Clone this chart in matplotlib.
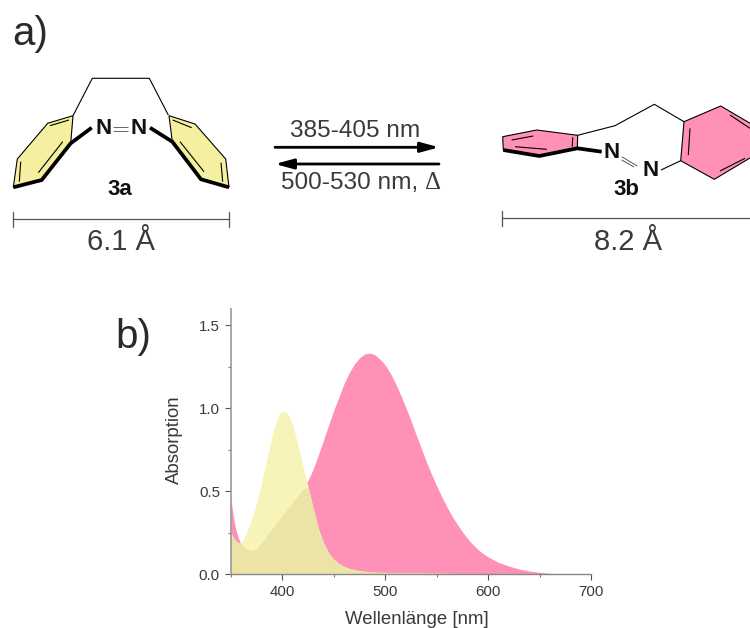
import numpy as np
import matplotlib
matplotlib.use('Agg')
import matplotlib.pyplot as plt

plt.rcParams['font.family'] = ['Liberation Sans', 'DejaVu Sans']

# spectrum values
wavelength = [350, 352, 354, 356, 358, 360, 362, 365, 370, 375, 380, 385, 390, 395, 398, 400, 402,
              405, 410, 415, 420, 425, 430, 435, 440, 445, 450, 455, 460, 465, 470, 475,
              480, 485, 490, 495, 500, 505, 510, 515, 520, 525, 530, 535, 540, 545, 550, 555,
              560, 565, 570, 575, 580, 585, 590, 595, 600, 610, 620, 630, 640, 650, 660, 670, 680, 700]
absorb_3b = [.45, .36, .29, .24, .205, .185, .17, .152, .142, .155, .19, .232, .275, .315, .34, .355, .37,
             .395, .435, .475, .512, .568, .635, .72, .81, .90, .99, 1.07, 1.15, 1.215, 1.267, 1.305,
             1.327, 1.333, 1.322, 1.295, 1.26, 1.21, 1.15, 1.08, 1.005, .925, .84, .76, .677, .602, .532, .466,
             .405, .35, .30, .256, .216, .18, .15, .125, .105, .072, .05, .032, .02, .012, .006, .003, .001, 0]
absorb_3a = [.25, .225, .208, .195, .19, .195, .21, .25, .33, .43, .558, .70, .835, .94, .972, .982, .984,
             .97, .90, .78, .65, .525, .395, .275, .19, .13, .09, .065, .048, .035, .028, .022,
             .018, .015, .013, .012, .012, .011, .011, .01, .01, .009, .009, .009, .008, .008, .007, .007,
             .006, .006, .005, .005, .004, .004, .004, .003, .003, .003, .002, .002, .001, .001, 0, 0, 0, 0]

x_ticks = [400, 500, 600, 700]
x_minor = [350, 450, 550, 650]
y_ticks = [0.0, 0.5, 1.0, 1.5]
y_minor = [0.25, 0.75, 1.25]

YELLOW = '#F6F4B8'
PINK = '#FF90B8'
OLIVE = '#ECE4A6'
RING_YELLOW = '#F5F0A0'
TEXT = '#3A3A3A'

# structure 3a, pixel outline of the drawing
ring_3a_left = [(73, 115.7), (47.7, 123.3), (17.3, 159), (13.3, 187.3), (41.7, 180), (70.7, 143.3)]
ring_3a_right = [(169, 115.7), (195, 124), (225.7, 159), (229, 187.3), (201, 179.3), (172.3, 141.7)]
bridge_3a = [(73, 115.7), (92.3, 78.3), (149.3, 78.3), (168.3, 115)]
thin_3a = [[(50, 125.7), (69, 120)], [(20.7, 161.7), (19.3, 181.7)], [(38.3, 172.7), (62.7, 141.7)],
           [(172.7, 120), (191.7, 127.7)], [(221, 162.7), (222.7, 181.7)], [(180, 141.7), (204, 171.7)]]
thick_3a = [[(13.3, 187.3), (41.7, 180), (70.7, 143.3), (91.7, 127.7)],
            [(229, 187.3), (201, 179.3), (172.3, 141.7), (150, 127.7)]]
nn_3a = [[(113.3, 126.7), (128.3, 126.7)], [(113.3, 130.7), (128.3, 130.7)]]

# structure 3b
ring_3b_left = [(502.7, 136.7), (536.7, 130), (577.7, 135.3), (577.3, 148.3), (539.3, 156), (503.3, 150)]
ring_3b_right = [(684, 121.7), (720.7, 106), (770, 135), (770, 146), (714.3, 179.3), (680.7, 160.7)]
bridge_3b = [(577.7, 135.3), (615, 125.7), (654.3, 104.3), (684, 121.7)]
thin_3b = [[(511.7, 140), (533.3, 136)], [(515, 146.7), (546.7, 149.3)], [(572.7, 137.3), (572.3, 146.7)],
           [(690, 128.3), (688.3, 155)], [(730, 115), (750, 128.3)], [(720, 171), (745, 158.3)],
           [(661, 170), (680.7, 160.7)]]
thick_3b = [[(503.3, 150), (539.3, 156), (577.3, 148.3), (601.7, 151.7)]]
nn_3b = [[(621.7, 156.7), (637.3, 166)], [(621.7, 160), (634, 167)]]


def draw_lines(ax, segments, lw, color='black', zorder=3):
    for seg in segments:
        xs, ys = zip(*seg)
        ax.plot(xs, ys, color=color, lw=lw, solid_capstyle='butt', solid_joinstyle='miter', zorder=zorder)


def draw_ring(ax, points, fill):
    xs, ys = zip(*points)
    ax.fill(xs, ys, facecolor=fill, edgecolor='black', lw=0.8, zorder=2)


def draw_scale(ax, x0, x1, y, label, label_x):
    ax.plot([x0, x1], [y, y], color='#555555', lw=0.9, zorder=3)
    ax.plot([x0, x0], [y - 7.5, y + 7.5], color='#555555', lw=0.9, zorder=3)
    if x1 < 750:
        ax.plot([x1, x1], [y - 7.5, y + 7.5], color='#555555', lw=0.9, zorder=3)
    ax.text(label_x, 242.5, label, fontsize=21, color=TEXT, ha='center', va='center')


fig = plt.figure(figsize=(7.5, 6.28), dpi=100)

# spectrum axes
ax = fig.add_axes([231 / 750, 1 - 574.3 / 628, 360 / 750, 265.6 / 628])
ax.fill_between(wavelength, absorb_3b, color=PINK, lw=0)
ax.fill_between(wavelength, absorb_3a, color=YELLOW, lw=0)
ax.fill_between(wavelength, np.minimum(absorb_3a, absorb_3b), color=OLIVE, lw=0)
ax.set_xlim(350, 700)
ax.set_ylim(0, 1.6)
ax.set_xticks(x_ticks)
ax.set_xticks(x_minor, minor=True)
ax.set_yticks(y_ticks)
ax.set_yticks(y_minor, minor=True)
ax.set_yticklabels(['0.0', '0.5', '1.0', '1.5'])
ax.tick_params(which='major', length=4, width=0.8, color='#555555', labelsize=10.8, labelcolor=TEXT, pad=4)
ax.tick_params(which='minor', length=2, width=0.8, color='#777777')
ax.spines['top'].set_visible(False)
ax.spines['right'].set_visible(False)
ax.spines['left'].set_color('#999999')
ax.spines['left'].set_linewidth(1.2)
ax.spines['bottom'].set_color('#888888')
ax.spines['bottom'].set_linewidth(1.0)
ax.set_xlabel('Wellenlänge [nm]', fontsize=13.4, color=TEXT, va='center')
ax.set_ylabel('Absorption', fontsize=13.4, color=TEXT, va='center')
ax.xaxis.set_label_coords((417 - 231) / 360, -(620 - 574.3) / 265.6)
ax.yaxis.set_label_coords((174 - 231) / 360, 0.507)

# overlay in pixel units for the structures
top = fig.add_axes([0, 0, 1, 1], facecolor='none')
top.set_xlim(0, 750)
top.set_ylim(628, 0)
top.axis('off')

draw_ring(top, ring_3a_left, RING_YELLOW)
draw_ring(top, ring_3a_right, RING_YELLOW)
draw_lines(top, [bridge_3a], 0.8)
draw_lines(top, thin_3a, 0.8)
draw_lines(top, thick_3a, 2.7)
draw_lines(top, nn_3a, 0.7, color='#666666')

draw_ring(top, ring_3b_left, PINK)
draw_ring(top, ring_3b_right, PINK)
draw_lines(top, [bridge_3b], 0.8)
draw_lines(top, thin_3b, 0.8)
draw_lines(top, thick_3b, 2.7)
draw_lines(top, nn_3b, 0.7, color='#555555')

for x, y, s in [(103.3, 128.3, 'N'), (138.3, 128.3, 'N'), (611.7, 152.3, 'N'), (650.7, 171, 'N'),
                (120, 189.5, '3a'), (626.7, 189.5, '3b')]:
    top.text(x, y, s, fontsize=16, fontweight='bold', color='#111111', ha='center', va='center', zorder=4)

draw_scale(top, 13.3, 229, 219.3, '6.1 Å', 121)
draw_scale(top, 502.3, 760, 218.3, '8.2 Å', 627.7)

# reaction arrows
top.annotate('', xy=(439, 147.3), xytext=(275, 147.3),
             arrowprops=dict(arrowstyle='-|>,head_length=1.1,head_width=0.3', color='black', lw=2.0,
                             shrinkA=0, shrinkB=0))
top.annotate('', xy=(275, 164), xytext=(439, 164),
             arrowprops=dict(arrowstyle='-|>,head_length=1.1,head_width=0.3', color='black', lw=2.0,
                             shrinkA=0, shrinkB=0))
top.text(355.5, 130.7, '385-405 nm', fontsize=17.6, color=TEXT, ha='center', va='center')
top.text(281, 182.7, '500-530 nm,', fontsize=17.6, color=TEXT, ha='left', va='center')
top.text(433, 183, 'Δ', fontsize=18, color=TEXT, family='Liberation Serif', ha='center', va='center')

top.text(12, 34, 'a)', fontsize=29, color='#2A2A2A', ha='left', va='center')
top.text(115, 337, 'b)', fontsize=29, color='#2A2A2A', ha='left', va='center')

fig.savefig('out.png', dpi=100)
